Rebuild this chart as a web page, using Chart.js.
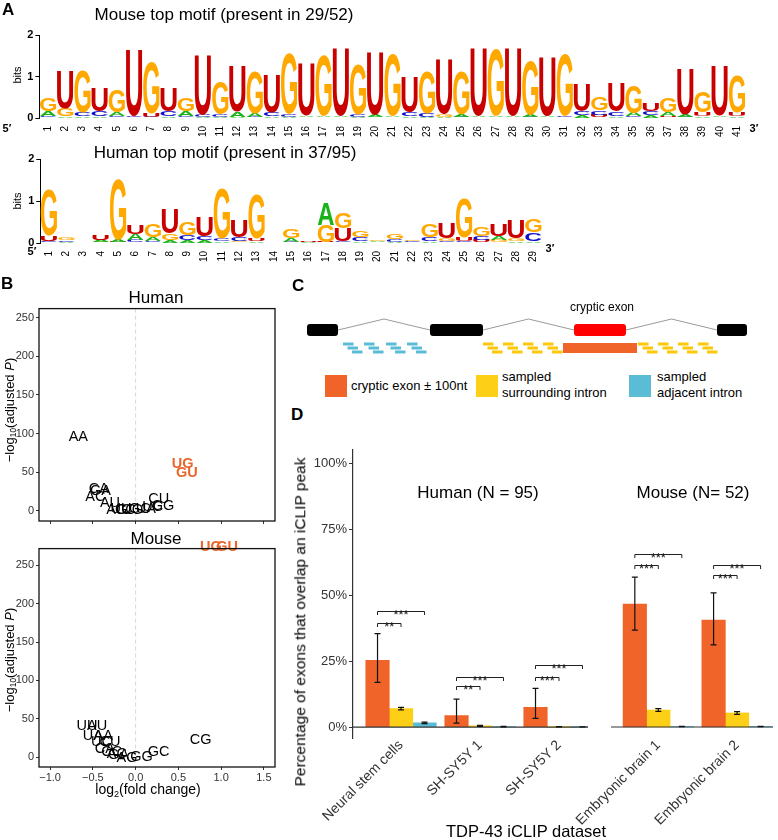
<!DOCTYPE html>
<html lang="en">
<head>
<meta charset="UTF-8">
<title>TDP-43 cryptic exons: motifs and iCLIP overlap</title>
<script src="https://cdn.jsdelivr.net/npm/chart.js"></script>
<style>
  body { margin:0; width:778px; height:840px; position:relative; background:#fff; overflow:hidden;
         font-family:"Liberation Sans", Arial, sans-serif; color:#000; }
  canvas { position:absolute; }
  .t { position:absolute; white-space:nowrap; transform:translate(-50%,-50%); line-height:1; }
  .rot { transform:translate(-50%,-50%) rotate(-90deg); }
  .lab { position:absolute; font-weight:bold; font-size:17px; line-height:1; }
  .sq { position:absolute; width:22px; height:22px; }
  .leg { position:absolute; font-size:13px; line-height:16px; white-space:nowrap; }
  sub { font-size:0.65em; vertical-align:-0.3em; line-height:0; }
</style>
</head>
<body>

<script>
// ---------- A: sequence logos (letters from the top of each column down) ----------
const mouseTopLetters = 'GUGUGUGUGU GUGUGUGUGU GUGUGUGUGU GUGUGUGUGU G'.replace(/ /g, '');
const mouseTopBits = [0.30, 0.90, 1.00, 0.55, 0.55, 1.60, 1.25, 0.55, 0.30, 1.45,
                      0.80, 1.10, 1.00, 0.90, 1.45, 1.25, 1.45, 1.62, 1.20, 1.50,
                      1.50, 0.85, 1.00, 1.30, 1.05, 1.62, 1.62, 1.62, 1.30, 1.40,
                      1.50, 0.65, 0.30, 0.70, 0.65, 0.20, 0.35, 1.10, 0.50, 1.20,
                      0.90];
const mouseMidLetters = 'AGCCACUCAC CAACCAAACA ACCGAAAAAA CCCCACAAUA U'.replace(/ /g, '');
const mouseMidBits = [0.12, 0.18, 0.10, 0.12, 0.10, 0.03, 0.08, 0.12, 0.12, 0.05,
                      0.06, 0.12, 0.08, 0.10, 0.06, 0.04, 0.04, 0.03, 0.06, 0.05,
                      0.03, 0.10, 0.08, 0.06, 0.06, 0.03, 0.03, 0.03, 0.06, 0.04,
                      0.04, 0.10, 0.10, 0.10, 0.08, 0.10, 0.08, 0.06, 0.10, 0.04,
                      0.10];
const mouseLowLetters = 'CAAACACACA AACAAACCAC CAAACCCCCC AAUACAUCAC A'.replace(/ /g, '');
const mouseLowBits = [0.04, 0.05, 0.04, 0.04, 0.04, 0.02, 0.03, 0.05, 0.04, 0.03,
                      0.03, 0.03, 0.03, 0.04, 0.03, 0.02, 0.02, 0.02, 0.03, 0.02,
                      0.02, 0.04, 0.03, 0.03, 0.03, 0.02, 0.02, 0.02, 0.03, 0.02,
                      0.02, 0.06, 0.08, 0.05, 0.04, 0.06, 0.05, 0.03, 0.04, 0.02,
                      0.04];

const humanTopLetters = 'GGAUGUGUGU GUGAGUAGGG GGGUGGUUG'.replace(/ /g, '');
const humanTopBits = [1.10, 0.05, 0.01, 0.12, 1.45, 0.20, 0.30, 0.58, 0.30, 0.45,
                      1.18, 0.40, 1.05, 0.01, 0.22, 0.03, 0.52, 0.38, 0.16, 0.04,
                      0.13, 0.03, 0.32, 0.38, 0.95, 0.22, 0.26, 0.42, 0.32];
const humanMidLetters = 'UCCAAAAGCC CCUCAAGUCA CCCGUCAGC'.replace(/ /g, '');
const humanMidBits = [0.12, 0.04, 0.01, 0.05, 0.05, 0.14, 0.10, 0.16, 0.12, 0.08,
                      0.06, 0.08, 0.06, 0.01, 0.08, 0.02, 0.40, 0.30, 0.08, 0.02,
                      0.06, 0.02, 0.08, 0.06, 0.08, 0.10, 0.10, 0.06, 0.20];
const humanLowLetters = 'CAGGUCCAAA AGAGCGUCAC AAACCUGAA'.replace(/ /g, '');
const humanLowBits = [0.05, 0.03, 0.01, 0.03, 0.03, 0.06, 0.05, 0.06, 0.07, 0.07,
                      0.05, 0.05, 0.05, 0.01, 0.03, 0.01, 0.03, 0.05, 0.05, 0.02,
                      0.03, 0.02, 0.05, 0.05, 0.05, 0.06, 0.06, 0.05, 0.05];

const bitTicks = [0, 1, 2];
const letterColors = { A: '#19b319', C: '#1010c8', G: '#ffa800', U: '#c80000' };

// ---------- B: dinucleotide enrichment ----------
const humanMotifs = ['AA','AC','AG','AU','CA','CC','CG','CU','GA','GC','GG','GU','UA','UC','UG','UU'];
const humanLogFC  = [-0.67, -0.47, -0.22, -0.30, -0.43, -0.12, -0.04, 0.27, -0.41, 0.05, 0.32, 0.60, 0.12, 0.20, 0.55, -0.17];
const humanNegLogP = [95, 18, 1, 10, 28, 1, 1, 15, 26, 2, 7, 49, 3, 5, 61, 2];
const mouseMotifs = ['AA','AC','AG','AU','CA','CC','CG','CU','GA','GC','GG','GU','UA','UC','UG','UU'];
const mouseLogFC  = [-0.38, -0.22, -0.10, -0.45, -0.36, -0.28, 0.76, -0.30, -0.20, 0.27, 0.07, 1.07, -0.50, -0.40, 0.88, -0.57];
const mouseNegLogP = [27, 4, -1, 40, 10, 7, 22, 20, 3, 7, 0, 274, 28, 20, 274, 41];
const hitMotifs = ['UG', 'GU'];
const foldTicks = [-1.0, -0.5, 0.0, 0.5, 1.0, 1.5];
const pTicks = [0, 50, 100, 150, 200, 250];

// ---------- C: schematic ----------
const exonStart = [17, 140, 284, 427];
const exonEnd   = [48, 193, 336, 457];
const exonFill  = ['#000000', '#000000', '#ff0000', '#000000'];
const crypticWindow = [273, 347];
const adjacentDashX = [53, 74, 96, 117];
const surroundDashX = [193, 213, 233, 253, 348, 368, 388, 408];

// ---------- D: overlap with iCLIP peaks (%) ----------
const humanDatasets = ['Neural stem cells', 'SH-SY5Y 1', 'SH-SY5Y 2'];
const humanCryptic = [25.3, 4.4, 7.5];
const humanCrypticLow = [17.0, 1.5, 3.3];
const humanCrypticHigh = [35.5, 10.6, 14.7];
const humanSurround = [7.0, 0.5, 0.1];
const humanSurroundLow = [6.5, 0.3, 0.05];
const humanSurroundHigh = [7.5, 0.7, 0.15];
const humanAdjacent = [1.6, 0.2, 0.05];
const humanAdjacentLow = [1.3, 0.1, 0.02];
const humanAdjacentHigh = [1.9, 0.3, 0.08];

const mouseDatasets = ['Embryonic brain 1', 'Embryonic brain 2'];
const mouseCryptic = [46.4, 40.4];
const mouseCrypticLow = [36.6, 31.0];
const mouseCrypticHigh = [56.6, 50.6];
const mouseSurround = [6.4, 5.3];
const mouseSurroundLow = [5.9, 4.8];
const mouseSurroundHigh = [6.9, 5.8];
const mouseAdjacent = [0.15, 0.15];
const mouseAdjacentLow = [0.1, 0.1];
const mouseAdjacentHigh = [0.2, 0.2];

// brackets: dataset group, compared series (1 = surrounding, 2 = adjacent), height (%), stars
const humanBracketGroup = [0, 0, 1, 1, 2, 2];
const humanBracketTo    = [1, 2, 1, 2, 1, 2];
const humanBracketY     = [39.6, 44.0, 15.5, 19.2, 19.2, 23.4];
const humanBracketStars = ['**', '***', '**', '***', '***', '***'];
const mouseBracketGroup = [0, 0, 1, 1];
const mouseBracketTo    = [1, 2, 1, 2];
const mouseBracketY     = [61.0, 65.3, 57.4, 61.0];
const mouseBracketStars = ['***', '***', '***', '***'];
const percentTicks = [0, 25, 50, 75, 100];

const seriesColors = ['#f0642a', '#fdd017', '#5bbcd6'];
</script>

<script>
Chart.defaults.font.family = '"Liberation Sans", Arial, sans-serif';
Chart.defaults.color = '#222';
Chart.defaults.animation = false;
Chart.defaults.responsive = false;
Chart.defaults.devicePixelRatio = 1;
Chart.defaults.plugins.legend.display = false;
Chart.defaults.plugins.tooltip.enabled = false;

function makeCanvas(left, top, w, h) {
  const c = document.createElement('canvas');
  c.width = w; c.height = h;
  c.style.left = left + 'px'; c.style.top = top + 'px';
  document.body.appendChild(c);
  return c;
}

// stretch one letter into a box
function drawLetter(ctx, ch, x, y, w, h, color) {
  ctx.save();
  ctx.font = 'bold 100px "Liberation Sans", Arial, sans-serif';
  const m = ctx.measureText(ch);
  const inkW = m.actualBoundingBoxLeft + m.actualBoundingBoxRight;
  const inkH = m.actualBoundingBoxAscent + m.actualBoundingBoxDescent;
  ctx.translate(x, y);
  ctx.scale(w / inkW, h / inkH);
  ctx.fillStyle = color;
  ctx.textAlign = 'left';
  ctx.textBaseline = 'alphabetic';
  ctx.fillText(ch, m.actualBoundingBoxLeft, m.actualBoundingBoxAscent);
  ctx.restore();
}

const logoPlugin = {
  id: 'logo',
  afterDatasetsDraw(chart) {
    chart.data.datasets.forEach((ds, di) => {
      chart.getDatasetMeta(di).data.forEach((el, i) => {
        const p = el.getProps(['x', 'y', 'base', 'width'], true);
        const h = p.base - p.y;
        if (h < 0.4) return;
        const ch = ds.letters[i];
        drawLetter(chart.ctx, ch, p.x - p.width / 2, p.y, p.width, h, letterColors[ch]);
      });
    });
  }
};

function logoChart(canvas, top, mid, low, yAxisW, padTop, padRight, axisH) {
  const labels = top.letters.split('').map((_, i) => String(i + 1));
  const mk = (s) => ({ data: s.bits, letters: s.letters, backgroundColor: 'rgba(0,0,0,0)',
                       categoryPercentage: 1, barPercentage: 0.94 });
  new Chart(canvas, {
    type: 'bar',
    data: { labels, datasets: [mk(low), mk(mid), mk(top)] },
    options: {
      layout: { padding: { top: padTop, right: padRight, left: 0, bottom: 0 } },
      scales: {
        x: { stacked: true, grid: { display: false }, border: { display: false },
             ticks: { minRotation: 90, maxRotation: 90, autoSkip: false, padding: 0,
                      color: '#000', font: { size: 10 } },
             afterFit: s => { s.height = axisH; } },
        y: { stacked: true, min: 0, max: 2,
             afterBuildTicks: s => { s.ticks = bitTicks.map(v => ({ value: v })); },
             grid: { drawOnChartArea: false, tickLength: 4, color: '#000' },
             border: { color: '#000', width: 1 },
             ticks: { padding: 2, color: '#000', font: { size: 11, weight: 'bold' } },
             afterFit: s => { s.width = yAxisW; } }
      }
    },
    plugins: [logoPlugin]
  });
}

logoChart(makeCanvas(0, 0, 778, 148),
  { letters: mouseTopLetters, bits: mouseTopBits },
  { letters: mouseMidLetters, bits: mouseMidBits },
  { letters: mouseLowLetters, bits: mouseLowBits }, 39.4, 35, 32.4, 30);

logoChart(makeCanvas(0, 140, 560, 130),
  { letters: humanTopLetters, bits: humanTopBits },
  { letters: humanMidLetters, bits: humanMidBits },
  { letters: humanLowLetters, bits: humanLowBits }, 40.3, 19, 18, 27);

// ---------- volcano-like plots ----------
const volcanoPlugin = {
  id: 'volcano',
  beforeDatasetsDraw(chart) {
    const { ctx, chartArea: a, scales: { x } } = chart;
    const px = x.getPixelForValue(0);
    ctx.save();
    ctx.strokeStyle = '#d6d6d6'; ctx.lineWidth = 1; ctx.setLineDash([4, 3]);
    ctx.beginPath(); ctx.moveTo(px, a.top); ctx.lineTo(px, a.bottom); ctx.stroke();
    ctx.restore();
  },
  afterDatasetsDraw(chart) {
    const { ctx, chartArea: a } = chart;
    const ds = chart.data.datasets[0];
    ctx.save();
    ctx.textAlign = 'center'; ctx.textBaseline = 'middle';
    chart.getDatasetMeta(0).data.forEach((el, i) => {
      const hit = hitMotifs.includes(ds.names[i]);
      ctx.font = (hit ? 'bold ' : '') + '14.5px "Liberation Sans", Arial, sans-serif';
      ctx.fillStyle = hit ? '#e8672c' : '#000';
      ctx.fillText(ds.names[i], el.x, el.y);
    });
    ctx.strokeStyle = '#111'; ctx.lineWidth = 1.3;
    ctx.strokeRect(a.left, a.top, a.right - a.left, a.bottom - a.top);
    ctx.restore();
  }
};

function volcanoChart(canvas, names, xs, ys, yMax, padTop, axisH, showXLabels) {
  new Chart(canvas, {
    type: 'scatter',
    data: { datasets: [{ data: xs.map((v, i) => ({ x: v, y: ys[i] })), names, pointRadius: 0 }] },
    options: {
      layout: { padding: { top: padTop, right: 15, left: 0, bottom: 0 } },
      scales: {
        x: { type: 'linear', min: -1.13, max: 1.63,
             afterBuildTicks: s => { s.ticks = foldTicks.map(v => ({ value: v })); },
             grid: { drawOnChartArea: false, tickLength: 3, color: '#333' },
             border: { display: false },
             ticks: { display: showXLabels, padding: 1, color: '#333', font: { size: 11 },
                      callback: v => v.toFixed(1).replace('-', '\u2212') },
             afterFit: s => { s.height = axisH; } },
        y: { min: -13, max: yMax,
             afterBuildTicks: s => { s.ticks = pTicks.map(v => ({ value: v })); },
             grid: { drawOnChartArea: false, tickLength: 3, color: '#333' },
             border: { display: false },
             ticks: { padding: 2, color: '#333', font: { size: 11 } },
             afterFit: s => { s.width = 39; } }
      }
    },
    plugins: [volcanoPlugin]
  });
}

volcanoChart(makeCanvas(0, 300, 290, 240), humanMotifs, humanLogFC, humanNegLogP, 261.5, 7, 19, false);
volcanoChart(makeCanvas(0, 540, 290, 260), mouseMotifs, mouseLogFC, mouseNegLogP, 271.8, 5, 33, true);

// ---------- C: schematic drawn on a plain linear frame ----------
const schematicPlugin = {
  id: 'schematic',
  afterDraw(chart) {
    const { ctx, scales: { x, y } } = chart;
    ctx.save();
    // introns
    ctx.strokeStyle = '#9a9a9a'; ctx.lineWidth = 1;
    for (let i = 0; i < exonStart.length - 1; i++) {
      const a = exonEnd[i], b = exonStart[i + 1];
      ctx.beginPath();
      ctx.moveTo(x.getPixelForValue(a), y.getPixelForValue(35));
      ctx.lineTo(x.getPixelForValue((a + b) / 2), y.getPixelForValue(24));
      ctx.lineTo(x.getPixelForValue(b), y.getPixelForValue(35));
      ctx.stroke();
    }
    // exons
    exonStart.forEach((s, i) => {
      const x0 = x.getPixelForValue(s), x1 = x.getPixelForValue(exonEnd[i]);
      const y0 = y.getPixelForValue(29), y1 = y.getPixelForValue(41);
      ctx.fillStyle = exonFill[i];
      ctx.beginPath(); ctx.roundRect(x0, y0, x1 - x0, y1 - y0, 3); ctx.fill();
    });
    // sampled windows
    const dashes = (starts, color) => {
      ctx.fillStyle = color;
      starts.forEach(s => {
        [[0, 49], [4.5, 53], [9, 57]].forEach(([dx, yy]) => {
          const x0 = x.getPixelForValue(s + dx), x1 = x.getPixelForValue(s + dx + 10.5);
          const y0 = y.getPixelForValue(yy - 1.5), y1 = y.getPixelForValue(yy + 1.5);
          ctx.fillRect(x0, y0, x1 - x0, y1 - y0);
        });
      });
    };
    dashes(adjacentDashX, seriesColors[2]);
    dashes(surroundDashX, '#fcc80a');
    const cx0 = x.getPixelForValue(crypticWindow[0]), cx1 = x.getPixelForValue(crypticWindow[1]);
    ctx.fillStyle = seriesColors[0];
    ctx.fillRect(cx0, y.getPixelForValue(48), cx1 - cx0, y.getPixelForValue(58) - y.getPixelForValue(48));
    ctx.restore();
  }
};

new Chart(makeCanvas(290, 295, 488, 65), {
  type: 'scatter',
  data: { datasets: [{ data: [] }] },
  options: {
    layout: { padding: 0 },
    scales: {
      x: { type: 'linear', min: 0, max: 488, display: false },
      y: { type: 'linear', min: 0, max: 65, reverse: true, display: false }
    }
  },
  plugins: [schematicPlugin]
});

// ---------- D: bars with error bars and brackets ----------
function overlapPlugin(bGroup, bTo, bY, bStars) {
  return {
    id: 'overlap',
    afterDatasetsDraw(chart) {
      const { ctx, chartArea: a, scales: { y } } = chart;
      ctx.save();
      const y0 = y.getPixelForValue(0);
      ctx.strokeStyle = '#333'; ctx.lineWidth = 1.2;
      ctx.beginPath(); ctx.moveTo(a.left, y0); ctx.lineTo(a.right, y0); ctx.stroke();
      ctx.strokeStyle = '#111'; ctx.lineWidth = 1.2;
      chart.data.datasets.forEach((ds, di) => {
        chart.getDatasetMeta(di).data.forEach((el, i) => {
          const lo = y.getPixelForValue(ds.errLow[i]), hi = y.getPixelForValue(ds.errHigh[i]);
          ctx.beginPath();
          ctx.moveTo(el.x, lo); ctx.lineTo(el.x, hi);
          ctx.moveTo(el.x - 3, lo); ctx.lineTo(el.x + 3, lo);
          ctx.moveTo(el.x - 3, hi); ctx.lineTo(el.x + 3, hi);
          ctx.stroke();
        });
      });
      ctx.strokeStyle = '#222'; ctx.lineWidth = 1;
      ctx.fillStyle = '#222';
      ctx.font = '13px "Liberation Sans", Arial, sans-serif';
      ctx.textAlign = 'center'; ctx.textBaseline = 'alphabetic';
      bGroup.forEach((g, k) => {
        const x1 = chart.getDatasetMeta(0).data[g].x;
        const x2 = chart.getDatasetMeta(bTo[k]).data[g].x;
        const yy = Math.round(y.getPixelForValue(bY[k])) + 0.5;
        ctx.beginPath();
        ctx.moveTo(x1, yy + 3.5); ctx.lineTo(x1, yy); ctx.lineTo(x2, yy); ctx.lineTo(x2, yy + 3.5);
        ctx.stroke();
        ctx.fillText(bStars[k], (x1 + x2) / 2, yy + 7.5);
      });
      ctx.restore();
    }
  };
}

function overlapChart(canvas, names, series, xMin, xMax, pad, showY, brackets) {
  const datasets = series.map((s, k) => ({
    data: s.vals.map((v, i) => ({ x: i + 1, y: v })),
    errLow: s.low, errHigh: s.high,
    backgroundColor: seriesColors[k], borderWidth: 0, barThickness: 23.5
  }));
  new Chart(canvas, {
    type: 'bar',
    data: { datasets },
    options: {
      layout: { padding: pad },
      scales: {
        x: { type: 'linear', offset: false, min: xMin, max: xMax,
             afterBuildTicks: s => { s.ticks = names.map((_, i) => ({ value: i + 1 })); },
             grid: { display: false }, border: { display: false },
             ticks: { minRotation: 45, maxRotation: 45, autoSkip: false, padding: -9,
                      color: '#333', font: { size: 14 }, callback: v => names[v - 1] },
             afterFit: s => { s.height = 94; } },
        y: { display: showY, min: -4.15, max: 105.3,
             afterBuildTicks: s => { s.ticks = percentTicks.map(v => ({ value: v })); },
             grid: { drawOnChartArea: false, tickLength: 4, color: '#333' },
             border: { color: '#333', width: 1.2 },
             ticks: { padding: 2, color: '#333', font: { size: 13 }, callback: v => v + '%' },
             afterFit: s => { s.width = showY ? 63 : 0; } }
      }
    },
    plugins: [overlapPlugin(...brackets)]
  });
}

overlapChart(makeCanvas(290, 440, 310, 392), humanDatasets, [
    { vals: humanCryptic, low: humanCrypticLow, high: humanCrypticHigh },
    { vals: humanSurround, low: humanSurroundLow, high: humanSurroundHigh },
    { vals: humanAdjacent, low: humanAdjacentLow, high: humanAdjacentHigh }],
  0.392, 3.367, { top: 8, right: 12, left: 0, bottom: 0 }, true,
  [humanBracketGroup, humanBracketTo, humanBracketY, humanBracketStars]);

overlapChart(makeCanvas(520, 440, 258, 392), mouseDatasets, [
    { vals: mouseCryptic, low: mouseCrypticLow, high: mouseCrypticHigh },
    { vals: mouseSurround, low: mouseSurroundLow, high: mouseSurroundHigh },
    { vals: mouseAdjacent, low: mouseAdjacentLow, high: mouseAdjacentHigh }],
  0.399, 2.456, { top: 8, right: 5, left: 91, bottom: 0 }, false,
  [mouseBracketGroup, mouseBracketTo, mouseBracketY, mouseBracketStars]);
</script>

<!-- panel letters and titles -->
<div class="lab" style="left:2px;top:1px">A</div>
<div class="t" style="left:224px;top:14px;font-size:17px">Mouse top motif (present in 29/52)</div>
<div class="t rot" style="left:17px;top:75px;font-size:11px">bits</div>
<div class="t" style="left:7px;top:128px;font-size:11px;font-weight:bold">5′</div>
<div class="t" style="left:754px;top:128px;font-size:11px;font-weight:bold">3′</div>

<div class="t" style="left:225px;top:152px;font-size:17px">Human top motif (present in 37/95)</div>
<div class="t rot" style="left:17px;top:201px;font-size:11px">bits</div>
<div class="t" style="left:32px;top:251px;font-size:11px;font-weight:bold">5′</div>
<div class="t" style="left:550px;top:248px;font-size:11px;font-weight:bold">3′</div>

<div class="lab" style="left:1px;top:275px">B</div>
<div class="t" style="left:156px;top:297px;font-size:17px">Human</div>
<div class="t rot" style="left:9px;top:410px;font-size:13px">−log<sub>10</sub>(adjusted <i>P</i>)</div>
<div class="t" style="left:156px;top:538px;font-size:17px">Mouse</div>
<div class="t rot" style="left:9px;top:660px;font-size:13px">−log<sub>10</sub>(adjusted <i>P</i>)</div>
<div class="t" style="left:148px;top:789px;font-size:14px">log<sub>2</sub>(fold change)</div>

<div class="lab" style="left:292px;top:277px">C</div>
<div class="t" style="left:602px;top:307px;font-size:12px">cryptic exon</div>
<div class="sq" style="left:325px;top:375px;background:#f0642a"></div>
<div class="leg" style="left:351px;top:378px">cryptic exon ± 100nt</div>
<div class="sq" style="left:476px;top:375px;background:#fdd017"></div>
<div class="leg" style="left:502px;top:369px">sampled<br>surrounding intron</div>
<div class="sq" style="left:629px;top:375px;background:#5bbcd6"></div>
<div class="leg" style="left:657px;top:369px">sampled<br>adjacent intron</div>

<div class="lab" style="left:291px;top:406px">D</div>
<div class="t" style="left:478px;top:492px;font-size:17px">Human (N = 95)</div>
<div class="t" style="left:693px;top:492px;font-size:17px">Mouse (N= 52)</div>
<div class="t rot" style="left:300px;top:622px;font-size:15.5px">Percentage of exons that overlap an iCLIP peak</div>
<div class="t" style="left:526px;top:831px;font-size:16.5px">TDP-43 iCLIP dataset</div>
</body>
</html>
